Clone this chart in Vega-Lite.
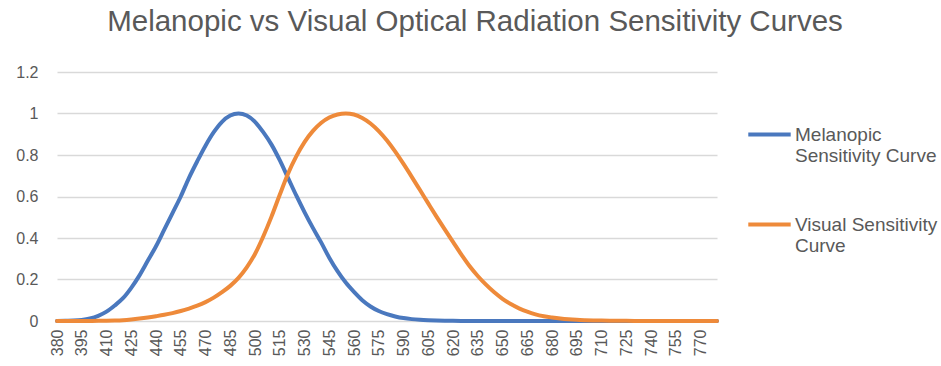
{
  "$schema": "https://vega.github.io/schema/vega-lite/v6.json",
  "width": 660,
  "height": 249,
  "autosize": "none",
  "padding": {"left": 57, "top": 72, "right": 224, "bottom": 45},
  "background": "white",
  "config": {"view": {"stroke": null}, "font": "Liberation Sans"},
  "title": {
    "text": "Melanopic vs Visual Optical Radiation Sensitivity Curves",
    "fontSize": 29.5,
    "fontWeight": "normal",
    "color": "#595959",
    "font": "Liberation Sans",
    "anchor": "middle",
    "frame": "group",
    "dx": 88,
    "baseline": "alphabetic",
    "offset": 4
  },
  "datasets": {
    "mel": [
      {"wl":380,"v":0.000},{"wl":385,"v":0.001},{"wl":390,"v":0.002},{"wl":395,"v":0.005},
      {"wl":400,"v":0.012},{"wl":405,"v":0.025},{"wl":410,"v":0.045},{"wl":415,"v":0.075},
      {"wl":420,"v":0.11},{"wl":425,"v":0.16},{"wl":430,"v":0.22},{"wl":435,"v":0.29},
      {"wl":440,"v":0.36},{"wl":445,"v":0.44},{"wl":450,"v":0.52},{"wl":455,"v":0.60},
      {"wl":460,"v":0.69},{"wl":465,"v":0.77},{"wl":470,"v":0.845},{"wl":475,"v":0.91},
      {"wl":480,"v":0.96},{"wl":485,"v":0.99},{"wl":490,"v":1.0},{"wl":495,"v":0.99},
      {"wl":500,"v":0.96},{"wl":505,"v":0.91},{"wl":510,"v":0.85},{"wl":515,"v":0.775},
      {"wl":520,"v":0.69},{"wl":525,"v":0.605},{"wl":530,"v":0.525},{"wl":535,"v":0.45},
      {"wl":540,"v":0.38},{"wl":545,"v":0.305},{"wl":550,"v":0.24},{"wl":555,"v":0.185},
      {"wl":560,"v":0.14},{"wl":565,"v":0.10},{"wl":570,"v":0.07},{"wl":575,"v":0.048},
      {"wl":580,"v":0.033},{"wl":585,"v":0.022},{"wl":590,"v":0.014},{"wl":595,"v":0.009},
      {"wl":600,"v":0.006},{"wl":605,"v":0.004},{"wl":610,"v":0.0025},{"wl":615,"v":0.0015},
      {"wl":620,"v":0.001},{"wl":625,"v":0.0006},{"wl":630,"v":0.0004},{"wl":635,"v":0.0002},
      {"wl":640,"v":0.0001},{"wl":645,"v":0},{"wl":650,"v":0},{"wl":655,"v":0},
      {"wl":660,"v":0},{"wl":665,"v":0},{"wl":670,"v":0},{"wl":675,"v":0},
      {"wl":680,"v":0},{"wl":685,"v":0},{"wl":690,"v":0},{"wl":695,"v":0},
      {"wl":700,"v":0},{"wl":705,"v":0},{"wl":710,"v":0},{"wl":715,"v":0},
      {"wl":720,"v":0},{"wl":725,"v":0},{"wl":730,"v":0},{"wl":735,"v":0},
      {"wl":740,"v":0},{"wl":745,"v":0},{"wl":750,"v":0},{"wl":755,"v":0},
      {"wl":760,"v":0},{"wl":765,"v":0},{"wl":770,"v":0},{"wl":775,"v":0},{"wl":780,"v":0}
    ],
    "vis": [
      {"wl":380,"v":0.00004},{"wl":385,"v":0.00006},{"wl":390,"v":0.00012},{"wl":395,"v":0.00022},
      {"wl":400,"v":0.0004},{"wl":405,"v":0.00064},{"wl":410,"v":0.0012},{"wl":415,"v":0.0022},
      {"wl":420,"v":0.004},{"wl":425,"v":0.0073},{"wl":430,"v":0.0116},{"wl":435,"v":0.0168},
      {"wl":440,"v":0.023},{"wl":445,"v":0.0298},{"wl":450,"v":0.038},{"wl":455,"v":0.048},
      {"wl":460,"v":0.06},{"wl":465,"v":0.0739},{"wl":470,"v":0.091},{"wl":475,"v":0.1126},
      {"wl":480,"v":0.139},{"wl":485,"v":0.1693},{"wl":490,"v":0.208},{"wl":495,"v":0.2586},
      {"wl":500,"v":0.323},{"wl":505,"v":0.4073},{"wl":510,"v":0.503},{"wl":515,"v":0.6082},
      {"wl":520,"v":0.71},{"wl":525,"v":0.7932},{"wl":530,"v":0.862},{"wl":535,"v":0.9149},
      {"wl":540,"v":0.954},{"wl":545,"v":0.9803},{"wl":550,"v":0.995},{"wl":555,"v":1.0},
      {"wl":560,"v":0.995},{"wl":565,"v":0.9786},{"wl":570,"v":0.952},{"wl":575,"v":0.9154},
      {"wl":580,"v":0.87},{"wl":585,"v":0.8163},{"wl":590,"v":0.757},{"wl":595,"v":0.6949},
      {"wl":600,"v":0.631},{"wl":605,"v":0.5668},{"wl":610,"v":0.503},{"wl":615,"v":0.4412},
      {"wl":620,"v":0.381},{"wl":625,"v":0.321},{"wl":630,"v":0.265},{"wl":635,"v":0.217},
      {"wl":640,"v":0.175},{"wl":645,"v":0.1382},{"wl":650,"v":0.107},{"wl":655,"v":0.0816},
      {"wl":660,"v":0.061},{"wl":665,"v":0.0446},{"wl":670,"v":0.032},{"wl":675,"v":0.0232},
      {"wl":680,"v":0.017},{"wl":685,"v":0.0119},{"wl":690,"v":0.0082},{"wl":695,"v":0.0057},
      {"wl":700,"v":0.0041},{"wl":705,"v":0.0029},{"wl":710,"v":0.0021},{"wl":715,"v":0.0015},
      {"wl":720,"v":0.001},{"wl":725,"v":0.0007},{"wl":730,"v":0.0005},{"wl":735,"v":0.0004},
      {"wl":740,"v":0.0002},{"wl":745,"v":0.0002},{"wl":750,"v":0.0001},{"wl":755,"v":0.0001},
      {"wl":760,"v":0.0001},{"wl":765,"v":0},{"wl":770,"v":0},{"wl":775,"v":0},{"wl":780,"v":0}
    ]
  },
  "layer": [
    {
      "data": {"name": "mel"},
      "transform": [{"calculate": "'Melanopic Sensitivity Curve'", "as": "series"}],
      "mark": {"type": "line", "strokeWidth": 4, "strokeCap": "round", "interpolate": "monotone"},
      "encoding": {
        "x": {"field": "wl", "type": "quantitative"},
        "y": {"field": "v", "type": "quantitative"},
        "color": {"field": "series", "type": "nominal"}
      }
    },
    {
      "data": {"name": "vis"},
      "transform": [{"calculate": "'Visual Sensitivity Curve'", "as": "series"}],
      "mark": {"type": "line", "strokeWidth": 4, "strokeCap": "round", "interpolate": "monotone"},
      "encoding": {
        "x": {"field": "wl", "type": "quantitative"},
        "y": {"field": "v", "type": "quantitative"},
        "color": {"field": "series", "type": "nominal"}
      }
    }
  ],
  "resolve": {"scale": {"color": "shared"}},
  "encoding": {
    "x": {
      "field": "wl",
      "type": "quantitative",
      "title": null,
      "scale": {"domain": [380, 780], "nice": false, "zero": false},
      "axis": {
        "values": [380,395,410,425,440,455,470,485,500,515,530,545,560,575,590,605,620,635,650,665,680,695,710,725,740,755,770],
        "labelAngle": -90,
        "labelAlign": "right",
        "labelBaseline": "middle",
        "labelFontSize": 16,
        "labelColor": "#595959",
        "labelPadding": 8,
        "ticks": false,
        "grid": false,
        "domain": false,
        "labelFlush": false,
        "labelOverlap": false
      }
    },
    "y": {
      "field": "v",
      "type": "quantitative",
      "title": null,
      "scale": {"domain": [0, 1.2], "nice": false},
      "axis": {
        "values": [0, 0.2, 0.4, 0.6, 0.8, 1, 1.2],
        "format": "~g",
        "labelFontSize": 16,
        "labelColor": "#595959",
        "labelPadding": 19,
        "ticks": false,
        "domain": false,
        "grid": true,
        "gridColor": "#d9d9d9",
        "gridWidth": 1.5
      }
    },
    "color": {
      "field": "series",
      "type": "nominal",
      "scale": {"domain": ["Melanopic Sensitivity Curve", "Visual Sensitivity Curve"], "range": ["#4A78BE", "#EE8A3A"]},
      "legend": {
        "title": null,
        "orient": "none",
        "legendX": 689,
        "legendY": 39,
        "symbolType": "stroke",
        "symbolSize": 1800,
        "symbolStrokeWidth": 4,
        "labelFontSize": 19,
        "labelColor": "#595959",
        "labelOffset": 2,
        "labelBaseline": "middle",
        "labelLimit": 230,
        "rowPadding": 35,
        "labelExpr": "datum.value == 'Melanopic Sensitivity Curve' ? ['Melanopic', 'Sensitivity Curve'] : ['Visual Sensitivity', 'Curve']"
      }
    }
  }
}
